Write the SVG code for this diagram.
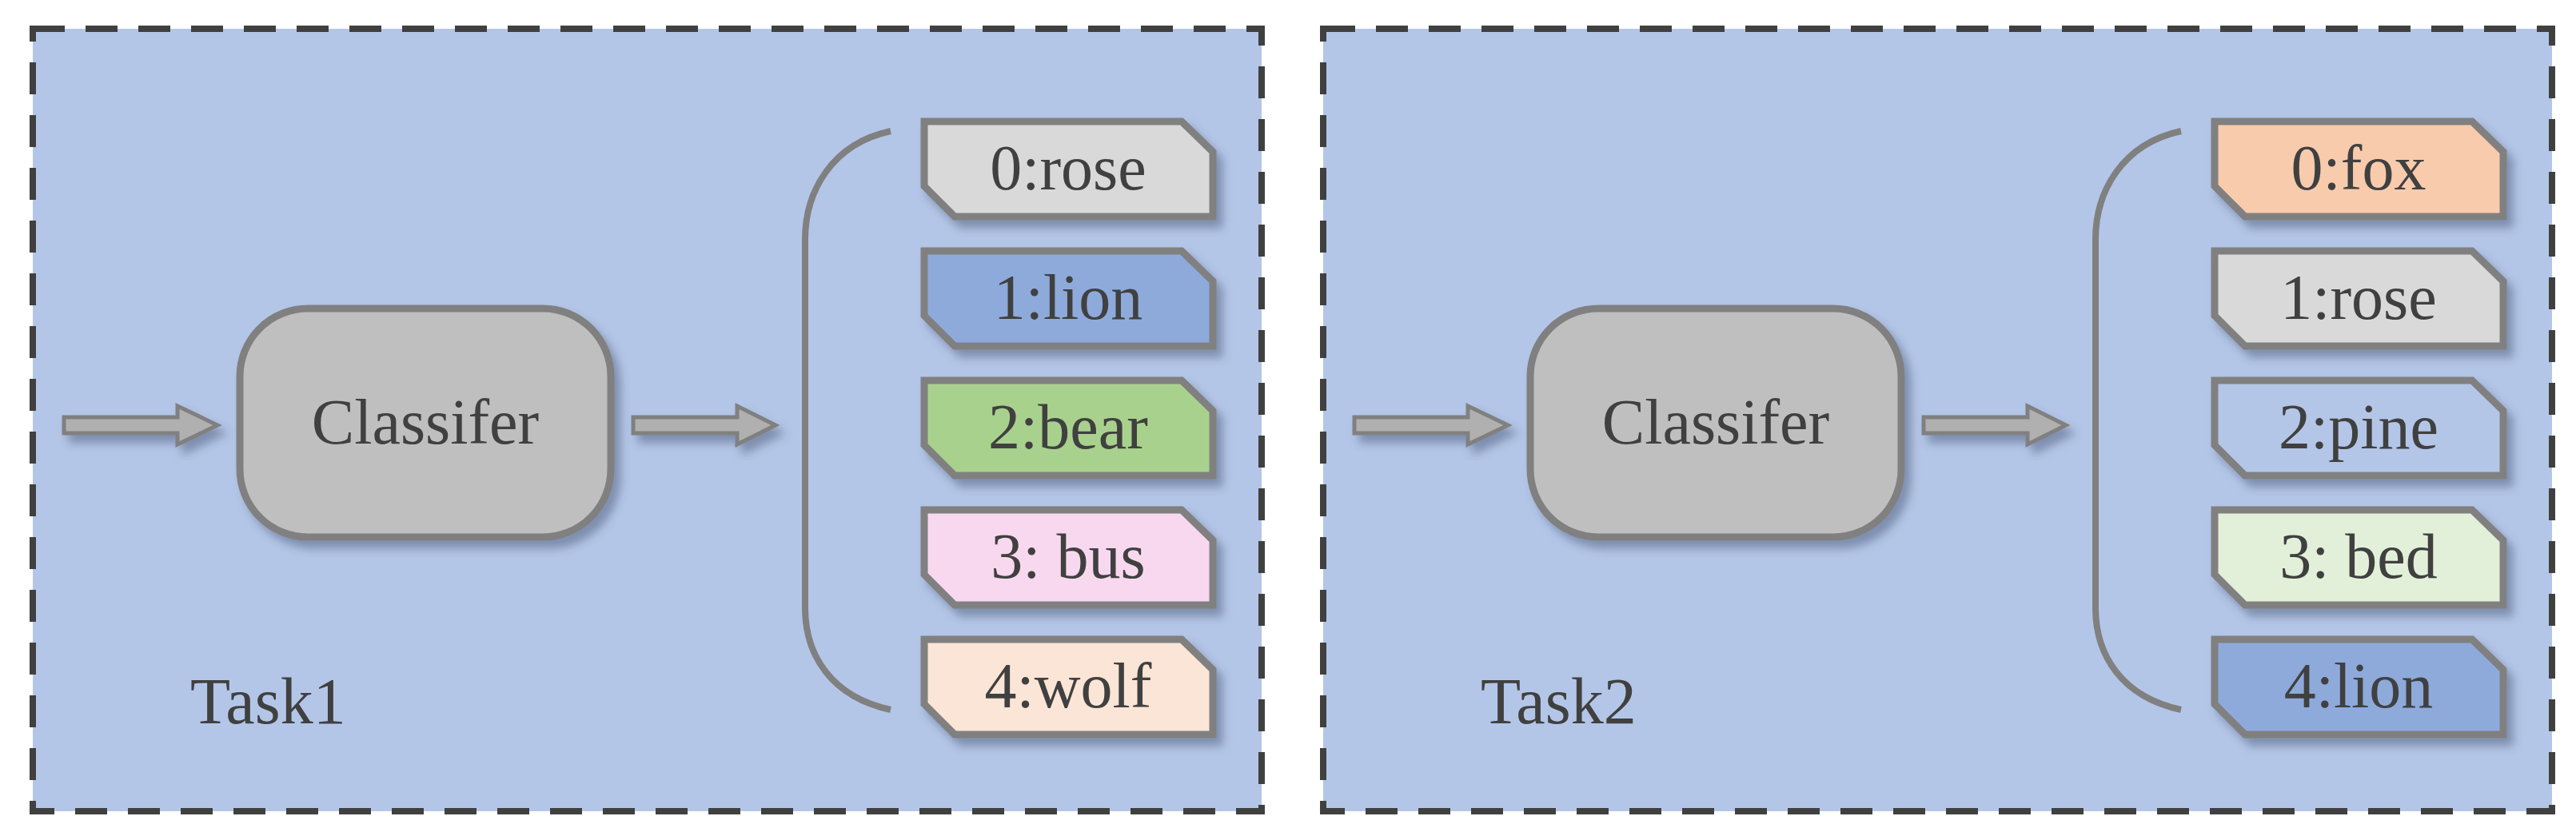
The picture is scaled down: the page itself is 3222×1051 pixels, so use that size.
<svg xmlns="http://www.w3.org/2000/svg" width="3222" height="1051" viewBox="0 0 3222 1051">
<style>
.panel{fill:#b4c6e7;stroke:#404040;stroke-width:8;stroke-dasharray:40 26}
.tag{stroke:#808080;stroke-width:9;filter:url(#sh)}
.box{fill:#bfbfbf;stroke:#808080;stroke-width:9;filter:url(#sh)}
.arr{fill:#b0b0b0;stroke:#808080;stroke-width:5;filter:url(#sh)}
.brace{fill:none;stroke:#808080;stroke-width:8}
text{font-family:"Liberation Serif","Times New Roman",serif;fill:#404040}
.t{font-size:80px;text-anchor:middle}
.c{font-size:80px;text-anchor:middle}
.k{font-size:82px}
</style>
<defs>
<filter id="sh" x="-20%" y="-20%" width="150%" height="160%">
<feDropShadow dx="8" dy="10" stdDeviation="6" flood-color="#3a4a6a" flood-opacity="0.45"/>
</filter>
<g id="tagshape"><path d="M1156,0 H1478 L1517,38 V119 H1194 L1156,81 Z"/></g>
</defs>
<g id="task1">
<rect class="panel" x="41" y="36" width="1537" height="979"/>
<text class="k" x="238" y="905">Task1</text>
</g>
<g id="task2">
<rect class="panel" x="1655" y="36" width="1537" height="979"/>
<text class="k" x="1852" y="905">Task2</text>
</g>
<g id="classifier1"><rect class="box" x="300" y="386" width="464" height="286" rx="85"/><text class="c" x="532" y="555">Classifer</text></g>
<g id="classifier2"><rect class="box" x="1914" y="386" width="464" height="286" rx="85"/><text class="c" x="2146" y="555">Classifer</text></g>
<g id="connectors">
<path class="arr" d="M80,522 H222 V508 L272,532 L222,556 V542 H80 Z"/>
<path class="arr" d="M792,522 H922 V508 L970,532 L922,556 V542 H792 Z"/>
<path class="arr" d="M1694,522 H1836 V508 L1886,532 L1836,556 V542 H1694 Z"/>
<path class="arr" d="M2406,522 H2536 V508 L2584,532 L2536,556 V542 H2406 Z"/>
<path class="brace" d="M1114,164 C1040,180 1007,240 1007,300 V760 C1007,820 1040,872 1114,888"/>
<path class="brace" d="M2728,164 C2654,180 2621,240 2621,300 V760 C2621,820 2654,872 2728,888"/>
</g>
<g id="t1_0"><use href="#tagshape" class="tag" fill="#d9d9d9" y="152"/><text class="t" x="1336" y="237">0:rose</text></g>
<g id="t1_1"><use href="#tagshape" class="tag" fill="#8eaadb" y="314"/><text class="t" x="1336" y="399">1:lion</text></g>
<g id="t1_2"><use href="#tagshape" class="tag" fill="#a9d18e" y="476"/><text class="t" x="1336" y="561">2:bear</text></g>
<g id="t1_3"><use href="#tagshape" class="tag" fill="#f8d8ef" y="638"/><text class="t" x="1336" y="723">3: bus</text></g>
<g id="t1_4"><use href="#tagshape" class="tag" fill="#fbe5d6" y="800"/><text class="t" x="1336" y="885">4:wolf</text></g>
<g id="t2_0"><use href="#tagshape" class="tag" fill="#f8cbad" x="1614" y="152"/><text class="t" x="2950" y="237">0:fox</text></g>
<g id="t2_1"><use href="#tagshape" class="tag" fill="#d9d9d9" x="1614" y="314"/><text class="t" x="2950" y="399">1:rose</text></g>
<g id="t2_2"><use href="#tagshape" class="tag" fill="#b4c6e7" x="1614" y="476"/><text class="t" x="2950" y="561">2:pine</text></g>
<g id="t2_3"><use href="#tagshape" class="tag" fill="#e2f0d9" x="1614" y="638"/><text class="t" x="2950" y="723">3: bed</text></g>
<g id="t2_4"><use href="#tagshape" class="tag" fill="#8eaadb" x="1614" y="800"/><text class="t" x="2950" y="885">4:lion</text></g>
</svg>
